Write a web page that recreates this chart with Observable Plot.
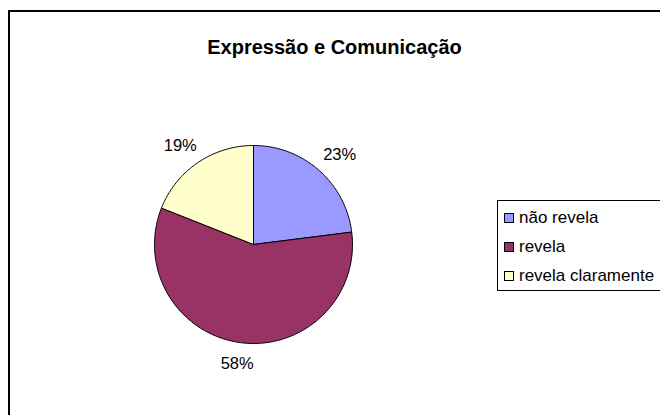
<!DOCTYPE html>
<html>
<head>
<meta charset="utf-8">
<script src="https://cdn.jsdelivr.net/npm/d3@7"></script>
<script src="https://cdn.jsdelivr.net/npm/@observablehq/plot@0.6"></script>
<style>
  html, body { margin: 0; padding: 0; background: #fff; }
  #wrap { position: relative; width: 660px; height: 415px; overflow: hidden; font-family: "Liberation Sans", Arial, sans-serif; }
  #frame { position: absolute; left: 8px; top: 10px; width: 700px; height: 450px; border: 2px solid #000; box-sizing: border-box; }
  #chart { position: absolute; left: 0; top: 0; }
</style>
</head>
<body>
<div id="wrap">
  <div id="frame"></div>
  <div id="chart"></div>
</div>
<script>
const title = "Expressão e Comunicação";
const categories = ["não revela", "revela", "revela claramente"];
const values = [23, 58, 19];
const labels = ["23%", "58%", "19%"];
const colors = ["#9999FF", "#993366", "#FFFFCC"];

// layout
const cx = 253, cy = 244, r = 99;
const labelFont = 16.5, labelGap = 15;

const pie = d3.pie().sort(null).value(d => d)(values);

// unit-circle polygon points for each slice (angle clockwise from 12 o'clock)
const slicePts = [];
pie.forEach((p, i) => {
  const cat = categories[i];
  slicePts.push({cat, x: 0, y: 0});
  const n = Math.max(2, Math.ceil((p.endAngle - p.startAngle) / (Math.PI / 180)));
  for (let k = 0; k <= n; k++) {
    const a = p.startAngle + (p.endAngle - p.startAngle) * k / n;
    slicePts.push({cat, x: Math.sin(a), y: Math.cos(a)});
  }
  slicePts.push({cat, x: 0, y: 0});
});

// label anchor on the rim; offsets pushed outward in px
const labelPts = pie.map((p, i) => {
  const a = (p.startAngle + p.endAngle) / 2;
  const s = Math.sin(a), c = Math.cos(a);
  const w = labels[i].length * labelFont * 0.66, h = labelFont * 0.72;
  return {label: labels[i], x: s, y: c, dx: s * (labelGap + w / 2), dy: -c * (labelGap + h / 2)};
});

const chart = Plot.plot({
  width: 660,
  height: 415,
  margin: 0,
  style: {background: "transparent", fontFamily: "'Liberation Sans', Arial, sans-serif", overflow: "visible"},
  x: {domain: [-1, 1], range: [cx - r, cx + r], axis: null},
  y: {domain: [-1, 1], range: [cy + r, cy - r], axis: null},
  color: {domain: categories, range: colors},
  marks: [
    Plot.line(slicePts, {x: "x", y: "y", z: "cat", fill: "cat", stroke: "#000", strokeWidth: 1, curve: "linear"}),
    ...labelPts.map(d => Plot.text([d], {x: "x", y: "y", text: "label", dx: d.dx, dy: d.dy, fontSize: labelFont, fill: "#000"})),
    Plot.text([title], {frameAnchor: "top-left", dx: 334, dy: 39, text: d => d, fontSize: 20, fontWeight: "bold", textAnchor: "middle", fill: "#000"})
  ]
});
document.getElementById("chart").appendChild(chart);

// legend (HTML overlay, built from the data arrays)
const legend = d3.select("#wrap").append("div")
  .style("position", "absolute").style("left", "497px").style("top", "200px")
  .style("width", "170px").style("height", "91px")
  .style("border", "1px solid #000").style("box-sizing", "border-box").style("background", "#fff");
categories.forEach((c, i) => {
  const row = legend.append("div").style("position", "absolute")
    .style("left", "6px").style("top", (7 + i * 29) + "px")
    .style("height", "20px").style("display", "flex").style("align-items", "center")
    .style("font-size", "17px").style("white-space", "nowrap");
  row.append("span").style("display", "inline-block").style("width", "8px").style("height", "8px")
    .style("border", "1px solid #000").style("background", colors[i]).style("margin-right", "5px");
  row.append("span").text(c);
});
</script>
</body>
</html>
